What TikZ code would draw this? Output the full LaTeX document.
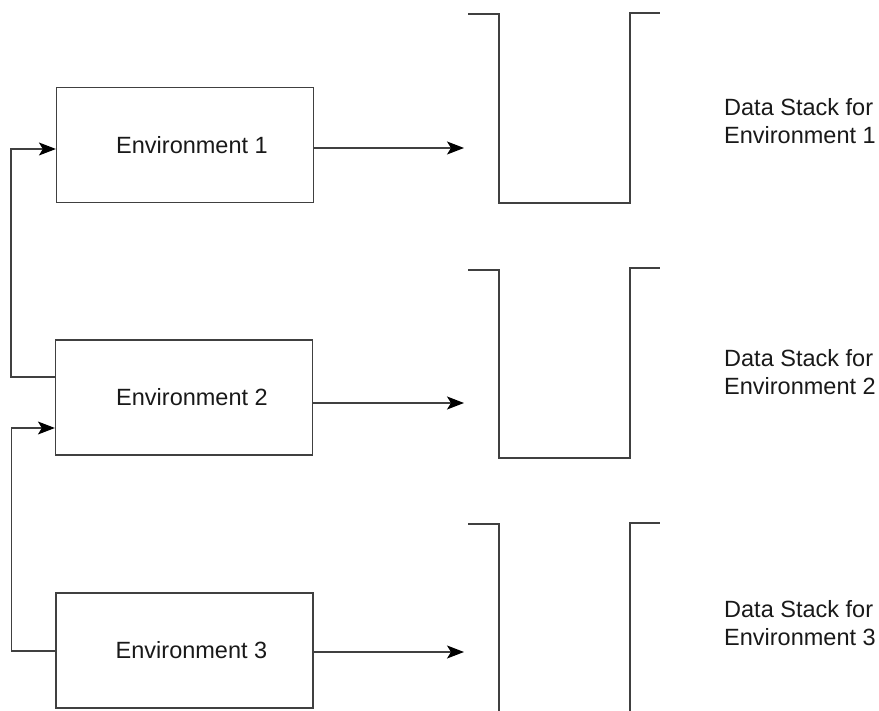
\documentclass[tikz,border=0pt]{standalone}
\usepackage{fontspec}
\setmainfont{Liberation Sans}
\usetikzlibrary{arrows.meta}
\tikzset{
  envbox/.style={draw=black!75,line width=1.2pt,minimum width=257pt,minimum height=115pt,inner sep=0pt,font=\fontsize{23.5}{27.5}\selectfont,text=black!90},
  conn/.style={draw=black!75,line width=1.2pt},
  arr/.style={conn,arrows={-Stealth[length=17pt,width=13pt,inset=4pt,black]}},
  stackline/.style={draw=black!75,line width=1.3pt},
  lbl/.style={anchor=west,align=left,inner sep=0pt,font=\fontsize{23.5}{28}\selectfont,text=black!90}}
\begin{document}
\begin{tikzpicture}[x=1pt,y=-1pt]
\useasboundingbox (0,0) rectangle (879,711);
% environment boxes
\node[envbox] (e1) at (185,145) {\hspace*{14pt}Environment 1};
\node[envbox] (e2) at (184,397.5) {\hspace*{16pt}Environment 2};
\node[envbox] (e3) at (184.5,650.5) {\hspace*{14pt}Environment 3};
% stacks
\draw[stackline] (468,14) -- (499,14) -- (499,203) -- (630,203) -- (630,13) -- (660,13);
\draw[stackline] (468,270) -- (499,270) -- (499,458) -- (630,458) -- (630,268) -- (660,268);
\draw[stackline] (468,524) -- (499,524) -- (499,711);
\draw[stackline] (630,711) -- (630,523) -- (660,523);
% stack arrow targets
\coordinate (s1) at (464,148);
\coordinate (s2) at (464,403);
\coordinate (s3) at (464,652);
\draw[arr] ([yshift=-3pt]e1.east) -- (s1);
\draw[arr] ([yshift=-5.5pt]e2.east) -- (s2);
\draw[arr] ([yshift=-1.5pt]e3.east) -- (s3);
% feedback connectors
\draw[arr] ([yshift=20.5pt]e2.west) -- ++(-44,0) |- ([yshift=-4pt]e1.west);
\draw[arr] ([yshift=-0.5pt]e3.west) -- ++(-44,0) |- ([yshift=-30.5pt]e2.west);
% labels
\node[lbl] (l1) at (724,121.5) {Data Stack for\\Environment 1};
\node[lbl] (l2) at (724,372.5) {Data Stack for\\Environment 2};
\node[lbl] (l3) at (724,623) {Data Stack for\\Environment 3};
\end{tikzpicture}
\end{document}
